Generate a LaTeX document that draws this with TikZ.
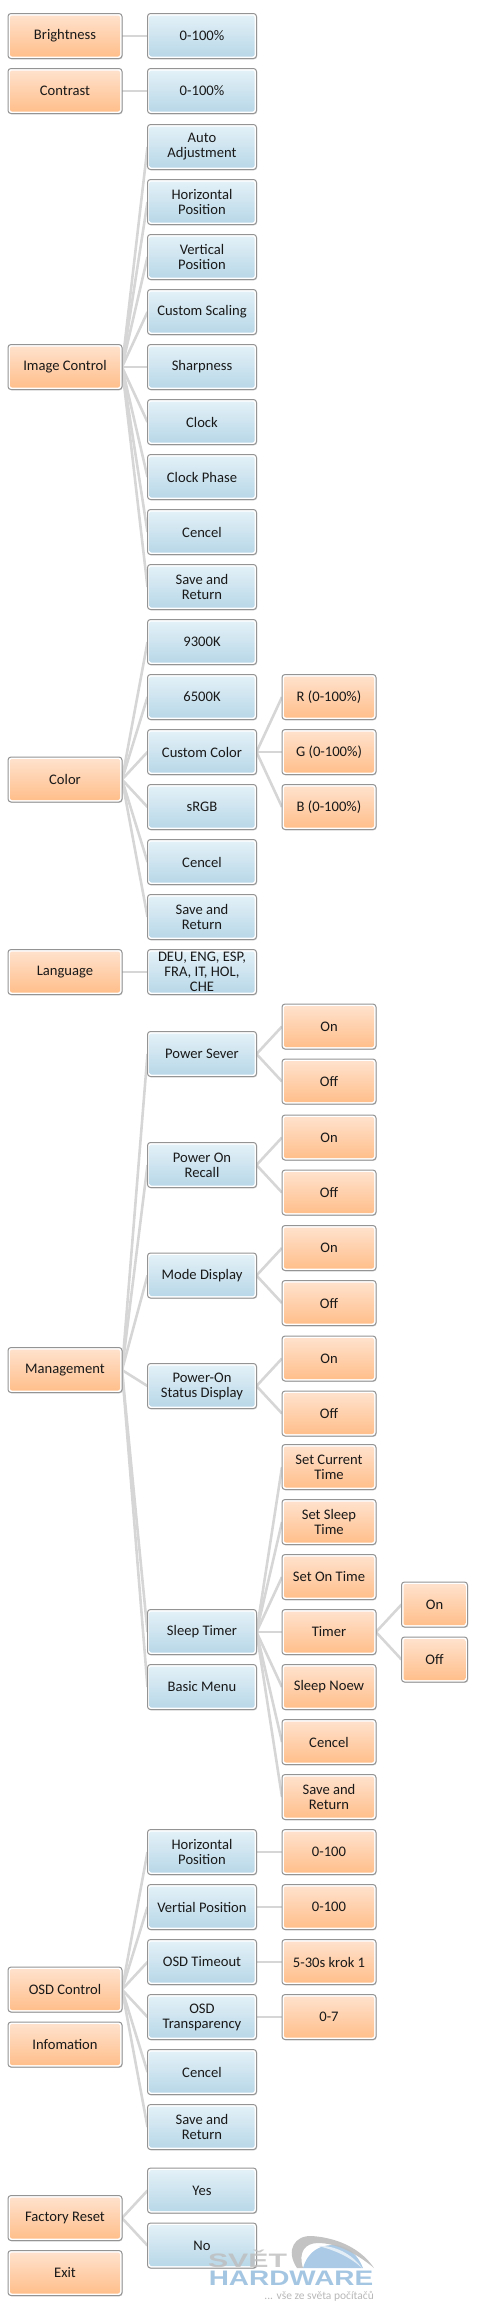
\documentclass[tikz,border=0pt]{standalone}
\usepackage{fontspec}
\setmainfont{Carlito}
\newfontfamily\wmfont{Liberation Sans}
\usetikzlibrary{positioning, calc, backgrounds, shadows}
\begin{document}
\begin{tikzpicture}[x=1pt, y=-1pt, font=\fontsize{14.6}{15}\selectfont,
  gradbox/.style 2 args={draw=black!42, line width=1pt, outer sep=0pt, rounded corners=3pt, fill=white, align=center, inner sep=0pt,
    minimum height=45pt, text=black!90,
    drop shadow={shadow xshift=0.6pt, shadow yshift=-0.8pt, fill=black, opacity=0.18},
    path picture={\shade[rounded corners=2pt, top color=#1, bottom color=#2]
      ([shift={(2pt,2pt)}]path picture bounding box.south west) rectangle ([shift={(-2pt,-2pt)}]path picture bounding box.north east);}},
  orgbox/.style={gradbox={orgtop}{orgbot}},
  blubox/.style={gradbox={blutop}{blubot}},
  top/.style={orgbox, minimum width=114pt},
  menu/.style={blubox, minimum width=109pt},
  val/.style={orgbox, minimum width=94pt},
  leaf/.style={orgbox, minimum width=66pt},
  link/.style={draw=black!16, line width=2.6pt},
  wmtext/.style={inner sep=0pt, anchor=base west, opacity=0.8}]
  \definecolor{orgtop}{HTML}{FFE3CF}
  \definecolor{orgbot}{HTML}{FFBD88}
  \definecolor{blutop}{HTML}{E5F2F8}
  \definecolor{blubot}{HTML}{B6D6E7}
  \definecolor{wmgray}{HTML}{BDBDBD}
  \definecolor{wmblue}{HTML}{8FB8DC}
  \useasboundingbox (0,0) rectangle (478,2310);
  \node[top] (bri) at (65,36) {Brightness};
  \node[menu, right=25.5pt of bri] (briv) {0-100\%};
  \node[top, below=10pt of bri] (con) {Contrast};
  \node[menu, right=25.5pt of con] (conv) {0-100\%};
  \node[menu, below=11pt of conv] (aut) {Auto\\Adjustment};
  \node[menu, below=10pt of aut] (hor) {Horizontal\\Position};
  \node[menu, below=10pt of hor] (ver) {Vertical\\Position};
  \node[menu, below=10pt of ver] (csc) {Custom Scaling};
  \node[menu, below=10pt of csc] (sha) {Sharpness};
  \node[menu, below=10pt of sha] (clk) {Clock};
  \node[menu, below=10pt of clk] (cph) {Clock Phase};
  \node[menu, below=10pt of cph] (ica) {Cencel};
  \node[menu, below=10pt of ica] (isa) {Save and\\Return};
  \node[top, left=25.5pt of sha] (img) {Image Control};
  \node[menu, below=10pt of isa] (k93) {9300K};
  \node[menu, below=10pt of k93] (k65) {6500K};
  \node[menu, below=10pt of k65] (cuc) {Custom Color};
  \node[menu, below=10pt of cuc] (srg) {sRGB};
  \node[menu, below=10pt of srg] (cca) {Cencel};
  \node[menu, below=10pt of cca] (csa) {Save and\\Return};
  \coordinate (colmid) at ($(cuc)!0.5!(srg)$);
  \node[top] (col) at (colmid -| bri) {Color};
  \node[val, right=25.5pt of cuc] (gre) {G (0-100\%)};
  \node[val, above=10pt of gre] (red) {R (0-100\%)};
  \node[val, below=10pt of gre] (blu) {B (0-100\%)};
  \node[menu, below=10pt of csa] (lanv) {DEU, ENG, ESP,\\FRA, IT, HOL,\\CHE};
  \node[top, left=25.5pt of lanv] (lan) {Language};
  \node[menu, below=37pt of lanv] (pse) {Power Sever};
  \node[menu, below=66pt of pse] (pre) {Power On\\Recall};
  \node[menu, below=65.5pt of pre] (mod) {Mode Display};
  \node[menu, below=65.5pt of mod] (pst) {Power-On\\Status Display};
  \node[menu, below=201pt of pst] (slt) {Sleep Timer};
  \node[menu, below=10pt of slt] (bas) {Basic Menu};
  \node[top, left=25.5pt of pst, yshift=16pt] (man) {Management};
  \foreach \n in {pse,pre,mod,pst} {
    \node[val, right=25.5pt of \n, yshift=27.5pt] (\n on) {On};
    \node[val, right=25.5pt of \n, yshift=-27.5pt] (\n off) {Off};
  }
  \node[val, right=25.5pt of slt] (tim) {Timer};
  \node[val, above=10pt of tim] (sot) {Set On Time};
  \node[val, above=10pt of sot] (sst) {Set Sleep\\Time};
  \node[val, above=10pt of sst] (sct) {Set Current\\Time};
  \node[val, below=10pt of tim] (sno) {Sleep Noew};
  \node[val, below=10pt of sno] (tca) {Cencel};
  \node[val, below=10pt of tca] (tsa) {Save and\\Return};
  \node[leaf, right=25.5pt of tim, yshift=27.5pt] (timon) {On};
  \node[leaf, right=25.5pt of tim, yshift=-27.5pt] (timoff) {Off};
  \node[menu, below=120pt of bas] (oho) {Horizontal\\Position};
  \node[menu, below=10pt of oho] (ove) {Vertial Position};
  \node[menu, below=10pt of ove] (oti) {OSD Timeout};
  \node[menu, below=10pt of oti] (otr) {OSD\\Transparency};
  \node[menu, below=10pt of otr] (oca) {Cencel};
  \node[menu, below=10pt of oca] (osa) {Save and\\Return};
  \node[val, right=25.5pt of oho] (ohov) {0-100};
  \node[val, right=25.5pt of ove] (ovev) {0-100};
  \node[val, right=25.5pt of oti] (otiv) {5-30s krok 1};
  \node[val, right=25.5pt of otr] (otrv) {0-7};
  \coordinate (osdmid) at ($(oti)!0.5!(otr)$);
  \node[top] (osd) at (osdmid -| bri) {OSD Control};
  \node[top, below=10pt of osd] (inf) {Infomation};
  \node[menu, below=18.5pt of osa] (yes) {Yes};
  \node[menu, below=10pt of yes] (nno) {No};
  \coordinate (facmid) at ($(yes)!0.5!(nno)$);
  \node[top] (fac) at (facmid -| bri) {Factory Reset};
  \node[top, below=10pt of fac] (exi) {Exit};
  \begin{scope}[on background layer]
    \foreach \p/\c in {bri/briv, con/conv, lan/lanv, img/aut, img/hor, img/ver, img/csc, img/sha, img/clk, img/cph, img/ica, img/isa,
      col/k93, col/k65, col/cuc, col/srg, col/cca, col/csa, cuc/red, cuc/gre, cuc/blu,
      man/pse, man/pre, man/mod, man/pst, man/slt, man/bas,
      pse/pseon, pse/pseoff, pre/preon, pre/preoff, mod/modon, mod/modoff, pst/pston, pst/pstoff,
      slt/sct, slt/sst, slt/sot, slt/tim, slt/sno, slt/tca, slt/tsa, tim/timon, tim/timoff,
      osd/oho, osd/ove, osd/oti, osd/otr, osd/oca, osd/osa, oho/ohov, ove/ovev, oti/otiv, otr/otrv,
      fac/yes, fac/nno}
      {\draw[link] (\p.east) -- (\c.west);}
  \end{scope}
  \fill[wmblue, opacity=0.75] (303,2268) .. controls (308,2251) and (320,2245) .. (333,2245) .. controls (348,2245) and (358,2255) .. (363,2268) -- cycle;
  \fill[white!75!wmblue] (318,2246) .. controls (335,2245) and (352,2254) .. (362,2268) .. controls (350,2257) and (335,2250) .. (318,2246) -- cycle;
  \fill[wmgray, opacity=0.9] (297,2268) .. controls (285,2250) and (295,2235) .. (312,2236) .. controls (340,2238) and (362,2250) .. (374,2268) .. controls (355,2252) and (335,2243) .. (318,2243) .. controls (305,2243) and (298,2252) .. (303,2268) -- cycle;
  \node[wmtext, text=wmgray, font=\wmfont\bfseries\fontsize{19.5}{20}\selectfont, xscale=1.55, anchor=base] (wmsv) at (247.5,2267) {SVĚT};
  \node[wmtext, text=wmblue, font=\wmfont\bfseries\fontsize{21}{22}\selectfont, xscale=1.33, anchor=base] (wmha) at (291,2285) {HARDWARE};
  \node[wmtext, text=black!35, font=\fontsize{11.5}{13}\selectfont, anchor=base east] (wmtag) at (374,2299) {... vše ze světa počítačů};
\end{tikzpicture}
\end{document}
